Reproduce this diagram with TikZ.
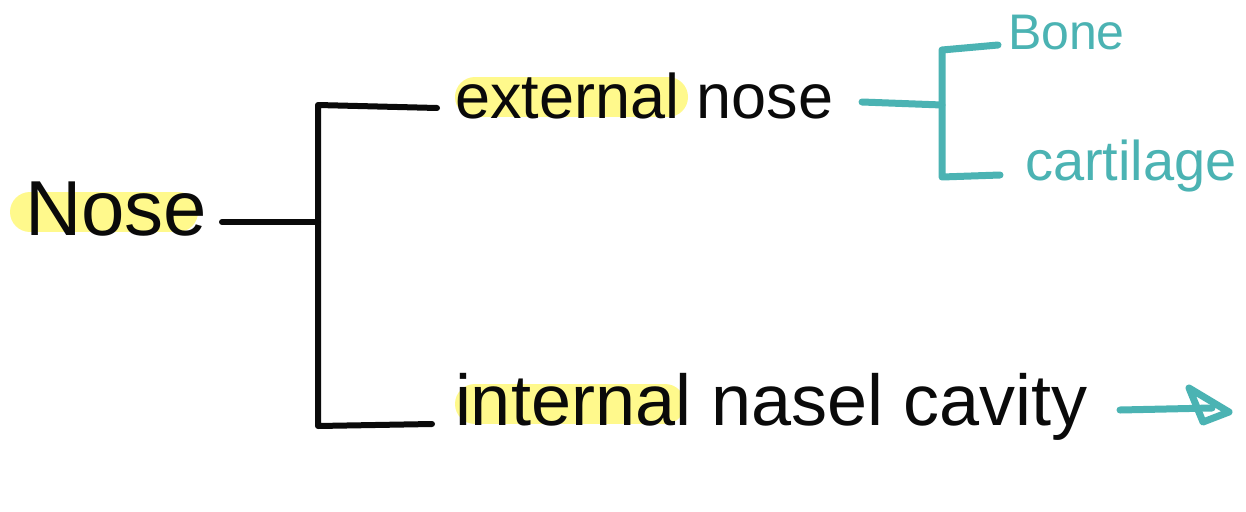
\documentclass[tikz,border=0pt]{standalone}
\usepackage{fontspec}
\setmainfont{Liberation Sans}
\definecolor{ink}{HTML}{0A0A0A}
\definecolor{tealink}{HTML}{4BB3B3}
\definecolor{marker}{HTML}{FFF98C}
\tikzset{
  blackline/.style={draw=ink, line width=6pt, line cap=round, line join=round},
  tealline/.style={draw=tealink, line width=7pt, line cap=round, line join=round},
  highlight/.style={draw=marker, line width=40pt, line cap=round},
  label/.style={inner sep=0pt, outer sep=0pt, anchor=base west, text=ink},
  teallabel/.style={label, text=tealink},
}
\begin{document}
\begin{tikzpicture}[x=1pt, y=-1pt]
\useasboundingbox (0,0) rectangle (1246,511);
\fill[white] (0,0) rectangle (1246,511);

% marker highlights behind the key words
\draw[highlight] (30,212) -- (178,212);
\draw[highlight] (475,97) -- (668,97);
\draw[highlight] (475,404) -- (665,404);

% text
\node[label, font=\fontsize{78}{82}\selectfont] (nose) at (25,235) {Nose};
\node[label, font=\fontsize{63}{70}\selectfont] (ext) at (455,118) {external nose};
\node[label, font=\fontsize{72}{78}\selectfont] (int) at (455,425) {internal nasel cavity};
\node[teallabel, font=\fontsize{50}{54}\selectfont] (bone) at (1008,50) {Bone};
\node[teallabel, font=\fontsize{56}{60}\selectfont] (cart) at (1025,180) {cartilage};

% main bracket
\coordinate (nj) at (318,222);
\coordinate (ntop) at (318,105);
\coordinate (nbot) at (318,426);
\coordinate (etip) at (437,108);
\coordinate (itip) at (432,424);
\coordinate (nstart) at (222,222);
\draw[blackline] (nstart) -- (nj);
\draw[blackline] (etip) -- (ntop) -- (nbot) -- (itip);

% teal bracket off external nose
\coordinate (tstart) at (862,102);
\coordinate (tj) at (942,105);
\coordinate (ttop) at (942,50);
\coordinate (tbot) at (942,177);
\coordinate (btip) at (998,45);
\coordinate (ctip) at (1000,175);
\draw[tealline] (tstart) -- (tj);
\draw[tealline] (btip) -- (ttop) -- (tbot) -- (ctip);

% teal arrow off nasal cavity, with an open triangular head
\coordinate (astart) at (1120,410);
\coordinate (aend) at (1212,408);
\coordinate (htop) at (1189,388);
\coordinate (htip) at (1229,412);
\coordinate (hbot) at (1203,422);
\draw[tealline] (astart) -- (aend);
\draw[tealline] (htop) -- (htip) -- (hbot) -- cycle;
\end{tikzpicture}
\end{document}
